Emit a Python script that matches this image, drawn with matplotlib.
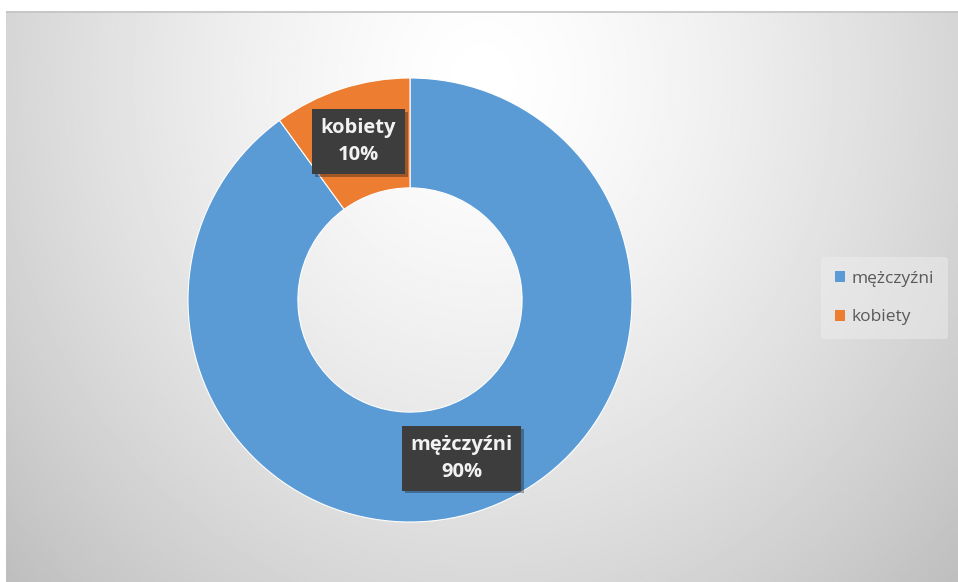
import numpy as np
import matplotlib.pyplot as plt
import matplotlib.patheffects as pe

# data
labels = ['mężczyźni', 'kobiety']
shares = [90, 10]
colors = ['#5B9BD5', '#ED7D31']

W, H = 958, 582
fig = plt.figure(figsize=(W / 100, H / 100), dpi=100)
fig.patch.set_facecolor('white')

# chart-area background: soft radial gradient, white near top middle
bg = fig.add_axes([6 / W, 0, (W - 6) / W, (H - 11) / H])
ny, nx = 300, 500
yy, xx = np.mgrid[0:ny, 0:nx]
dx = (xx / nx - 0.5) / 0.62
dy = (yy / ny - 0.12) / 1.15
d = np.clip(np.sqrt(dx ** 2 + dy ** 2), 0, 1.2)
val = 1.0 - 0.22 * d ** 1.4
bg.imshow(val, cmap='gray', vmin=0, vmax=1, aspect='auto', extent=[0, 1, 1, 0],
          interpolation='bilinear')
bg.set_xlim(0, 1)
bg.set_ylim(1, 0)
bg.axis('off')
bg.plot([0, 1], [0.002, 0.002], color='#c4c4c4', lw=1.2)

# donut
cx, cy, r = 410, 300, 222
ax = fig.add_axes([(cx - r) / W, (H - cy - r) / H, 2 * r / W, 2 * r / H])
wedges, _ = ax.pie(shares, colors=colors, startangle=90, counterclock=False,
                   radius=1.0, wedgeprops=dict(width=0.495, edgecolor='white', linewidth=0.8))
ax.set_xlim(-1, 1)
ax.set_ylim(-1, 1)
ax.set_aspect('equal')
ax.axis('off')

# data labels in dark boxes, placed along each wedge's mid angle
for w, lab, s in zip(wedges, labels, shares):
    ang = np.deg2rad((w.theta1 + w.theta2) / 2)
    x, y = 0.75 * np.cos(ang), 0.75 * np.sin(ang)
    t = ax.text(x, y, f'{lab}\n{s}%', ha='center', va='center', fontsize=14.5,
                fontweight='bold', color='#f2f2f2', family='Open Sans', linespacing=1.5,
                bbox=dict(boxstyle='square,pad=0.42', facecolor='#3d3d3d', edgecolor='none'))
    t.get_bbox_patch().set_path_effects([pe.SimplePatchShadow(offset=(2, -2), alpha=0.35),
                                         pe.Normal()])

# legend on the right
handles = [plt.Rectangle((0, 0), 1, 1, facecolor=c) for c in colors]
leg = fig.legend(handles, labels, loc='center left', bbox_to_anchor=(812 / W, 1 - 298 / H),
                 frameon=True, handlelength=0.6, handleheight=0.6,
                 handletextpad=0.4, labelspacing=1.3, borderpad=0.8,
                 prop={'family': 'Open Sans', 'size': 12.5})
leg.get_frame().set_facecolor('#f0f0f0')
leg.get_frame().set_alpha(0.45)
leg.get_frame().set_edgecolor('none')
for txt in leg.get_texts():
    txt.set_color('#595959')

fig.savefig('out.png', dpi=100)
